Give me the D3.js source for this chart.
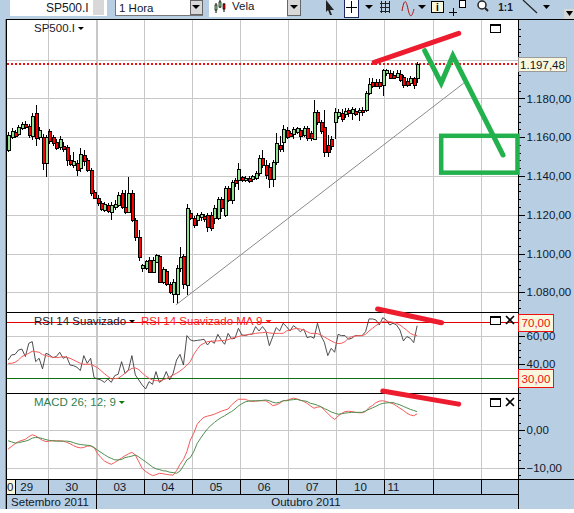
<!DOCTYPE html>
<html>
<head>
<meta charset="utf-8">
<style>
    html, body { margin: 0; padding: 0; background: #fff; }
    svg { display: block; font-family: "Liberation Sans", Arial, sans-serif; }
    .crisp { shape-rendering: crispEdges; }
    .axis text { font-size: 11.5px; fill: #10182a; }
    .axis path { display: none; }
    .axis line { stroke: #000; }
</style>
<script src="https://cdnjs.cloudflare.com/ajax/libs/d3/7.8.5/d3.min.js"></script>
</head>
<body>
<svg id="chart" width="574" height="513"></svg>
<script>
// hourly candles
var opens = [1153.3,1160,1162.6,1161.5,1164.6,1166.7,1165.7,1160.5,1172.3,1160,1160,1146.7,1163.1,1160,1157.4,1155,1155.4,1154.9,1148.2,1145.6,
    1146.7,1144,1150.8,1148.2,1143,1131.8,1128.7,1126.2,1122.6,1125.2,1121.5,1124.1,1125.2,1131.3,1124.1,1121.5,1131.3,1117.4,1108.7,1092.3,
    1092.3,1096.9,1090.8,1095.4,1098.5,1085.1,1090.8,1084.1,1079,1079,1092.3,1098.5,1084.1,1121,1118.5,1117.4,1119,1119.5,1120,1120,
    1118.5,1118.5,1128.2,1120,1133.8,1127.7,1138,1138,1139.5,1138,1139,1138.5,1139,1141.5,1149.2,1145.6,1144.6,1138.5,1147.2,1155.9,
    1157.4,1163.6,1162,1161.5,1162.6,1163.6,1161,1164.6,1162,1159,1172.8,1167.7,1165.1,1155.9,1159,1167.7,1170.8,1172.3,1171.8,1173.8,
    1172.3,1173.3,1172.8,1173.8,1173.8,1182.6,1188.7,1188.7,1188.7,1186.7,1192.8,1193.3,1192.3,1191.3,1192.8,1190.8,1189.2,1187.7,1190.3,1190.3];
var closes = [1161,1163.1,1160.5,1165.1,1166.7,1165.1,1161,1170.8,1159.5,1163.6,1146.7,1160,1158,1157,1154.4,1159,1153.8,1148.2,1146.2,1147.7,
    1143,1151.3,1147.7,1143,1131.3,1128.7,1126.2,1123,1125.7,1122,1125.2,1125.7,1130.3,1124.1,1121.5,1131.3,1117.4,1108.7,1098.5,1093.9,
    1095.9,1090.8,1096.9,1099,1085.1,1091.8,1084.1,1080,1085.1,1092.3,1098,1084.1,1123.6,1118.5,1114.9,1120,1120.5,1118,1113.9,1113.3,
    1123.6,1128.2,1123.6,1133.8,1127.7,1137,1136.4,1143.6,1138,1139,1137.4,1140,1141.5,1149.2,1145.6,1140.5,1138.5,1147.2,1157,1153.8,
    1164.1,1160,1160.5,1164.1,1164.6,1160.5,1164.6,1159.5,1159.5,1172.8,1167.7,1163.1,1152.3,1152.3,1155.4,1172.8,1172.8,1169.2,1173.3,1172.3,
    1174.4,1171.8,1173.8,1172.8,1182.6,1187.2,1186.7,1186.7,1186.7,1194.4,1194.4,1190.8,1190.8,1193.3,1189.8,1186.7,1187.2,1190.3,1186.7,1197.48];
var highs = [1162.6,1164.6,1163.6,1166.2,1167.7,1168.2,1166.7,1172.3,1176.4,1165.1,1161.5,1161,1164.1,1161,1159,1160.5,1157.4,1156,1150.8,1152.3,
    1148.2,1154.4,1153.3,1149.2,1144,1132.8,1130.3,1127.2,1126.7,1126.2,1126.7,1127.7,1131.8,1132.8,1132.8,1139.5,1132.8,1118.5,1112.3,1094.4,
    1096.4,1098,1098,1099.5,1099,1092.8,1091.8,1085.1,1086.7,1093.9,1103.6,1099.5,1125.7,1122.6,1119.5,1121,1121.5,1120.5,1121,1121.5,
    1125.2,1129.2,1129.2,1134.9,1134.9,1138,1139,1146.7,1140,1140,1140,1140.5,1142.6,1150.8,1153.3,1148.2,1146.7,1148.2,1162,1160.5,
    1166.2,1165.1,1163.1,1165.1,1165.1,1164.6,1165.7,1165.7,1163.1,1179,1173.8,1168.7,1173.8,1161,1160.5,1174.9,1174.4,1174.4,1174.9,1174.9,
    1175.4,1174.9,1174.9,1175.4,1183.6,1190.3,1190.3,1189.8,1189.8,1195.4,1195.4,1194.4,1193.9,1194.4,1194.4,1192.3,1190.3,1191.3,1190.8,1199];
var lows = [1152.3,1159,1159.5,1160.5,1163.6,1164.1,1159.5,1158.5,1155.4,1158.5,1143,1139.5,1156.4,1155.4,1153.3,1153.3,1152.3,1145.1,1145.1,1144.1,
    1140,1142,1145.1,1142,1129.8,1128.2,1124.6,1122,1121.5,1121,1117.4,1122.6,1124.1,1123,1120.5,1121,1116.4,1106.2,1095.9,1090.3,
    1091.3,1090.3,1090.3,1094.9,1084.6,1084.1,1083.1,1079,1074.4,1073.8,1090.3,1081.5,1078.5,1117.4,1113.3,1114.4,1117,1116.4,1111.3,1111.8,
    1115.4,1117.4,1121.5,1119,1126.7,1125.7,1134.4,1132.8,1137,1137,1136.4,1137,1138,1140,1144.1,1138.5,1133.8,1134.4,1145.6,1152.3,
    1152.3,1159,1160,1159,1161.5,1158.5,1160,1158,1158,1158.5,1166.2,1161.5,1149.8,1149.8,1153.3,1159,1169.2,1167.7,1169.8,1170.3,
    1168.7,1170.8,1168.2,1170.8,1172.8,1181.5,1185.1,1186.2,1184.6,1181,1191.3,1189.8,1189.8,1190.3,1188.2,1185.1,1185.7,1186.2,1184.6,1187.7];

var rsi = [43.1,46.7,47.1,50.2,50.9,45.5,55,56.2,41.9,44.3,36.7,47.9,46.7,44.8,45.5,48.6,44.3,45.5,39.5,39,
    37.9,35.5,46.2,40.7,44.3,30.5,29.5,28.8,27.1,29.5,27.1,31.9,32.9,41.9,33.6,36,46.2,32.4,28.8,25.2,
    22.4,27.6,25.7,34.8,27.1,28.8,34.8,28.8,33.6,43.1,47.1,39.5,60.5,57.4,56.7,57.1,57.4,57.9,53.8,56.7,
    55,61.4,57.4,54.3,62.1,58.1,58.6,65.7,61,60.5,61.4,61.4,66.9,63.8,66.9,63.8,53.3,59.8,66.2,63.8,
    69.3,66.9,63.8,67.6,65.7,63.3,65.2,59,59.8,58.6,69.3,60.5,55.7,46.2,51.4,48.6,61.4,60.5,60.5,57.9,
    58.6,60.5,60.5,60.5,63.3,72.4,72.4,71.7,68.1,73.3,71.7,68.1,69.3,68.1,64.5,56.7,59.8,58.6,55.5,67.6];
var rsiMa = [40.7,40.7,41.4,43.1,45.5,46.7,47.9,49.3,49,48.6,46.9,46.2,45.5,45,44.8,45,45.5,45,44.3,43.1,
    41.9,40.7,40,40,40,38.8,37.6,35.5,33.3,31.4,29.5,29.8,30,31.7,33.6,35.5,37.1,37.4,36.2,33.8,
    31.7,30,28.8,28.3,28.3,28.8,29.8,31,32.4,33.6,35.2,37.1,39.5,41.9,47.1,50.7,53.8,55,56.2,56.4,
    56.7,56.7,56.9,57.1,57.6,58.6,59.3,59.8,60.5,61,61.2,61.7,62.1,62.4,62.6,62.9,62.4,62.1,62.1,62.1,
    62.1,63.8,64.5,65.2,65.7,65.2,64.5,63.3,62.1,62.1,61.9,61,59.5,58.1,56.7,55.5,54.8,55,56.2,58.6,
    59.8,60.2,60.5,60.5,61.4,63.8,65.7,67.6,69.3,70.5,71,70.5,70,69.3,68.1,66.2,64.3,62.1,61,60.5];

var macd = [-5,-4.3,-3.6,-3,-2.7,-2.4,-1.7,-1.2,-1.5,-2.1,-2.7,-3,-2.9,-2.8,-2.8,-2.8,-2.9,-3.2,-3.6,-4.1,
    -4.5,-4.7,-4.6,-4.2,-4.2,-4.6,-6.2,-7.3,-8.2,-8.7,-9.1,-8.6,-8,-7.4,-6.8,-6.3,-5.9,-6.6,-8.4,-10.2,
    -11,-11.6,-12.1,-11.9,-11.5,-11.6,-11.8,-11.9,-12,-10.8,-9.1,-7.8,-5.7,-2.6,-0.8,1.6,2.7,3.5,3.8,4,
    4.3,4.7,5.1,5.4,5.7,6.8,7.6,8.3,8.3,8.3,7.9,7.7,7.8,7.9,7.9,7.9,7.3,6.6,6.8,7.2,
    7.9,8,8.3,8.6,8.4,8.1,7.7,7.2,6.5,5.9,6.2,6.3,5.4,4.5,3.6,2.9,3.8,4.5,5,5.1,
    5,4.8,4.7,4.7,5,6.1,6.6,7.4,7.8,7.9,7.7,7.4,7.1,6.5,5.9,5.3,4.6,4.1,3.9,4.4];
var macdSignal = [-2.8,-3.1,-3.4,-3.3,-3.1,-2.9,-2.6,-2.1,-1.9,-2,-2.2,-2.5,-2.7,-2.8,-2.9,-2.9,-2.9,-2.9,-3,-3.3,
    -3.6,-3.8,-3.9,-4,-4.1,-4.6,-5.3,-5.9,-6.5,-7.1,-7.5,-7.9,-7.9,-7.8,-7.3,-7.1,-6.9,-6.6,-7.1,-7.8,
    -8.4,-9.1,-9.8,-10.3,-10.5,-10.8,-10.9,-11.2,-11.3,-11.5,-10.9,-9.5,-7.9,-7.3,-5.7,-3.5,-2.1,-0.8,0.4,1.3,
    2.1,2.8,3.4,3.9,4.5,5,5.7,6.5,7.1,7.6,7.8,7.9,7.9,7.9,8,8.1,7.9,7.5,7.3,7.5,
    7.9,7.9,8.1,8.2,8.3,8,7.9,7.7,7.2,7,6.7,6.3,5.8,5.4,4.9,4.6,4.3,4.4,4.6,4.7,
    4.8,4.8,4.8,4.8,5.2,5.6,6,6.4,6.9,7.2,7.3,7.4,7.4,7.1,6.8,6.4,6,5.6,5.3,5];

// day labels and where each day starts, in candle number
var dayLabels = ['29', '30', '03', '04', '05', '06', '07', '10', '11', '', ''];
var dayStarts = [-2, 12, 26, 40, 54, 68, 82, 96, 110, 124, 138, 152];
var firstDateEdge = 2.4;
var months = [{ name: 'Setembro 2011', from: -2, to: 26 }, { name: 'Outubro 2011', from: 26, to: 152 }];

var priceTicks = [1180, 1160, 1140, 1120, 1100, 1080];
var priceGrid = [1200, 1180, 1160, 1140, 1120, 1100, 1080];
var rsiTicks = [60, 40];
var macdTicks = [0, -10];
var lastPrice = 1197.48;

// hand drawn notes on the chart, in candle number and value
var trendLine = [[48.8, 1073.5], [132.6, 1187.9]];
var greenPath = [[121.2, 1204.6], [126, 1187.9], [129.4, 1202], [144, 1150.8]];
var greenBox = { i0: 126, i1: 148.2, top: 1160.7, bottom: 1141.7 };
var redPrice = [[106.5, 1198.6], [131.1, 1213.5]];
var redRsi = [[107.5, 79.5], [126.1, 69.7]];
var redMacd = [[109, 10.5], [131.1, 7]];

var BLUE = '#b8cfe3', GRID = '#c8c8c8', UP = '#90e090', DOWN = '#ff0000';
var left = 7, right = 518, chartTop = 19, pricePanelEnd = 312, rsiEnd = 393, macdEnd = 479, dateEnd = 494, monthEnd = 509;

var x = d3.scaleLinear().domain([12, 138]).range([47.7, 480.7]);
var yPrice = d3.scaleLinear().domain([1080, 1200]).range([292.3, 59.6]);
var yRsi = d3.scaleLinear().domain([70, 30]).range([322.3, 378.3]);
var yMacd = d3.scaleLinear().domain([0, -10]).range([430.3, 467.7]);
var cx = function (i) { return x(i + 0.5); };

var svg = d3.select('#chart');

// window chrome
svg.append('rect').attr('width', 574).attr('height', 509).attr('fill', BLUE);
svg.append('rect').attr('x', 5).attr('y', 19).attr('width', 2).attr('height', 490).attr('fill', '#8c9096');
svg.append('rect').attr('x', left).attr('y', chartTop).attr('width', right - left).attr('height', macdEnd - chartTop).attr('fill', '#fff');

// grid
var grid = svg.append('g').attr('class', 'crisp').attr('stroke', GRID);
grid.selectAll('line.v').data(dayStarts.filter(function (d) { return x(d) > left && x(d) < right; })).enter().append('line')
    .attr('x1', function (d) { return Math.round(x(d)) + 0.5; })
    .attr('x2', function (d) { return Math.round(x(d)) + 0.5; })
    .attr('y1', chartTop).attr('y2', macdEnd)
    .attr('stroke-width', function (d) { return d === 26 ? 2 : 1; });
function hGrid(vals, scale) {
    grid.selectAll(null).data(vals).enter().append('line')
        .attr('x1', left).attr('x2', right)
        .attr('y1', function (d) { return Math.round(scale(d)) + 0.5; })
        .attr('y2', function (d) { return Math.round(scale(d)) + 0.5; });
}
hGrid(priceGrid, yPrice);
hGrid(rsiTicks, yRsi);
hGrid(macdTicks, yMacd);

// last price line
svg.append('line').attr('class', 'crisp')
    .attr('x1', left).attr('x2', right)
    .attr('y1', Math.round(yPrice(lastPrice))).attr('y2', Math.round(yPrice(lastPrice)))
    .attr('stroke', '#e81010').attr('stroke-width', 2).attr('stroke-dasharray', '2 2');

// candles
var candles = svg.append('g').attr('class', 'crisp');
var idx = d3.range(closes.length);
candles.selectAll('line').data(idx).enter().append('line')
    .attr('x1', function (i) { return Math.round(cx(i)) + 0.5; })
    .attr('x2', function (i) { return Math.round(cx(i)) + 0.5; })
    .attr('y1', function (i) { return yPrice(highs[i]); })
    .attr('y2', function (i) { return yPrice(lows[i]); })
    .attr('stroke', '#000');
candles.selectAll('rect').data(idx).enter().append('rect')
    .attr('x', function (i) { return Math.round(cx(i)) - 1 + 0.5; })
    .attr('width', 3)
    .attr('y', function (i) { return Math.round(yPrice(Math.max(opens[i], closes[i]))) + 0.5; })
    .attr('height', function (i) { return Math.max(1, Math.round(Math.abs(yPrice(opens[i]) - yPrice(closes[i])))); })
    .attr('fill', function (i) { return closes[i] >= opens[i] ? UP : DOWN; })
    .attr('stroke', '#000');

// trend line
var pricePath = d3.line().x(function (d) { return cx(d[0]); }).y(function (d) { return yPrice(d[1]); });
svg.append('path').attr('d', pricePath(trendLine)).attr('fill', 'none').attr('stroke', '#8a8a8a').attr('stroke-width', 1);

// RSI levels and lines
svg.append('line').attr('class', 'crisp').attr('x1', left).attr('x2', right).attr('y1', Math.round(yRsi(70)) + 0.5).attr('y2', Math.round(yRsi(70)) + 0.5).attr('stroke', '#e00000');
svg.append('line').attr('class', 'crisp').attr('x1', left).attr('x2', right).attr('y1', Math.round(yRsi(30)) + 0.5).attr('y2', Math.round(yRsi(30)) + 0.5).attr('stroke', '#107010');
var rsiLine = d3.line().x(function (d, i) { return cx(i); }).y(function (d) { return yRsi(d); });
svg.append('path').attr('d', rsiLine(rsi)).attr('fill', 'none').attr('stroke', '#3a3a3a').attr('stroke-width', 0.9);
svg.append('path').attr('d', rsiLine(rsiMa)).attr('fill', 'none').attr('stroke', '#f55a5a').attr('stroke-width', 1);

// MACD lines
var macdLine = d3.line().x(function (d, i) { return cx(i); }).y(function (d) { return yMacd(d); });
svg.append('path').attr('d', macdLine(macd)).attr('fill', 'none').attr('stroke', '#f55a5a').attr('stroke-width', 1);
svg.append('path').attr('d', macdLine(macdSignal)).attr('fill', 'none').attr('stroke', '#4f8f4f').attr('stroke-width', 1);

// panel borders
var frame = svg.append('g').attr('class', 'crisp').attr('stroke', '#000');
[chartTop, pricePanelEnd, rsiEnd, macdEnd, dateEnd].forEach(function (y, n) {
    frame.append('line').attr('x1', left).attr('x2', n === 0 ? 574 : right).attr('y1', y + 0.5).attr('y2', y + 0.5);
});
frame.append('line').attr('x1', 519).attr('x2', 574).attr('y1', macdEnd + 0.5).attr('y2', macdEnd + 0.5);
frame.append('line').attr('x1', right + 0.5).attr('x2', right + 0.5).attr('y1', chartTop).attr('y2', monthEnd);
frame.append('line').attr('x1', left - 0.5).attr('x2', left - 0.5).attr('y1', chartTop).attr('y2', monthEnd);

// right axes
function rightAxis(scale, labelVals, minorVals, fmt) {
    var g = svg.append('g').attr('class', 'axis crisp').attr('transform', 'translate(' + (right + 0.5) + ',0)');
    g.call(d3.axisRight(scale).tickValues(minorVals).tickSize(2).tickFormat(''));
    var g2 = svg.append('g').attr('class', 'axis crisp').attr('transform', 'translate(' + (right + 0.5) + ',0)');
    g2.call(d3.axisRight(scale).tickValues(labelVals).tickSize(6).tickPadding(2).tickFormat(fmt));
}
var fmtPrice = function (d) { return d3.format(',.2f')(d).replace(/,/g, '#').replace('.', ',').replace(/#/g, '.'); };
rightAxis(yPrice, priceTicks, d3.range(1072, 1220, 4), fmtPrice);
rightAxis(yRsi, rsiTicks, d3.range(25, 80, 5), fmtPrice);
rightAxis(yMacd, macdTicks, d3.range(-12, 14, 2), fmtPrice);

// value flags on the axis
function flag(val, scale, txt, w, h, border, color) {
    var yy = Math.round(scale(val));
    svg.append('rect').attr('class', 'crisp').attr('x', right + 0.5).attr('y', yy - h / 2 + 0.5).attr('width', w).attr('height', h)
        .attr('fill', '#f8f6dc').attr('stroke', border);
    svg.append('text').attr('x', right + 0.5 + w / 2).attr('y', yy + 4.5).attr('text-anchor', 'middle')
        .attr('font-size', 11.5).attr('fill', color).text(txt);
}
flag(lastPrice, yPrice, fmtPrice(lastPrice), 48, 14, '#9a9a9a', '#10182a');
flag(70, yRsi, fmtPrice(70), 35, 17, '#ee1111', '#ee1111');
flag(30, yRsi, fmtPrice(30), 35, 18, '#ee1111', '#ee1111');

// date strips
svg.append('rect').attr('x', left).attr('y', macdEnd + 1).attr('width', 8).attr('height', 14).attr('fill', '#f8f6dc');
svg.append('text').attr('x', 7).attr('y', 491).attr('font-size', 11.5).attr('fill', '#10182a').text('0');
var dates = svg.append('g');
dates.selectAll('line').data([firstDateEdge].concat(dayStarts.filter(function (d) { return x(d) > left && x(d) < right; }))).enter().append('line')
    .attr('class', 'crisp').attr('stroke', '#000')
    .attr('x1', function (d) { return Math.round(x(d)) + 0.5; })
    .attr('x2', function (d) { return Math.round(x(d)) + 0.5; })
    .attr('y1', macdEnd).attr('y2', dateEnd);
dates.selectAll('text').data(dayLabels).enter().append('text')
    .attr('x', function (d, i) {
        // the last day is short, its label sits over the candles it has
        return d === '11' ? x(110) + 9 : (x(Math.max(dayStarts[i], -2)) + x(dayStarts[i + 1])) / 2 + (i === 0 ? 3 : 0);
    })
    .attr('y', 491).attr('text-anchor', 'middle').attr('font-size', 11.5).attr('fill', '#10182a')
    .text(function (d) { return d; });
svg.append('line').attr('class', 'crisp').attr('stroke', '#000').attr('x1', Math.round(x(26)) + 0.5).attr('x2', Math.round(x(26)) + 0.5).attr('y1', dateEnd).attr('y2', monthEnd);
svg.append('text').attr('x', 50).attr('y', 506).attr('text-anchor', 'middle').attr('font-size', 11.5).attr('fill', '#10182a').text(months[0].name);
svg.append('text').attr('x', 306).attr('y', 506).attr('text-anchor', 'middle').attr('font-size', 11.5).attr('fill', '#10182a').text(months[1].name);

// panel titles
function title(px, py, txt, color, triColor) {
    var t = svg.append('text').attr('x', px).attr('y', py).attr('font-size', 11.5).attr('fill', color).text(txt);
    var w = t.node().getComputedTextLength();
    svg.append('path').attr('d', 'M' + (px + w + 3) + ',' + (py - 5) + 'h6l-3,3z').attr('fill', triColor);
}
title(34, 32, 'SP500.I', '#1a2030', '#000');
title(34, 325, 'RSI 14 Suavizado', '#1a2030', '#000');
title(141, 325, 'RSI 14 Suavizado MA 9', '#ff2020', '#ff2020');
title(34, 406, 'MACD 26; 12; 9', '#2f7f4f', '#0a7a0a');

// maximise and close buttons
function panelButtons(py, withClose) {
    svg.append('rect').attr('class', 'crisp').attr('x', 490.5).attr('y', py + 0.5).attr('width', 10).attr('height', 8).attr('fill', '#fff').attr('stroke', '#000');
    svg.append('rect').attr('class', 'crisp').attr('x', 490.5).attr('y', py + 0.5).attr('width', 10).attr('height', 1.5).attr('fill', '#000');
    if (withClose) {
        svg.append('path').attr('d', 'M506,' + py + 'l8,8M514,' + py + 'l-8,8').attr('stroke', '#000').attr('stroke-width', 1.6);
    }
}
panelButtons(24, false);
panelButtons(316, true);
panelButtons(398, true);

// toolbar, cut at the top of the window
var tb = svg.append('g');
tb.append('rect').attr('x', 10).attr('y', 0).attr('width', 97).attr('height', 16).attr('fill', '#fff');
tb.append('text').attr('x', 46).attr('y', 12).attr('font-size', 12).attr('fill', '#10182a').text('SP500.I');
tb.append('rect').attr('x', 93).attr('y', 0).attr('width', 11).attr('height', 15).attr('fill', '#d8d8d8');
tb.append('rect').attr('class', 'crisp').attr('x', 115.5).attr('y', -1).attr('width', 87).attr('height', 16).attr('fill', '#fff').attr('stroke', '#777');
tb.append('text').attr('x', 119).attr('y', 12).attr('font-size', 11.5).attr('fill', '#10182a').text('1 Hora');
tb.append('rect').attr('class', 'crisp').attr('x', 190.5).attr('y', 0).attr('width', 12).attr('height', 14).attr('fill', '#d8d8d8').attr('stroke', '#666');
tb.append('path').attr('d', 'M192,5h8l-4,4z').attr('fill', '#000');
tb.append('rect').attr('x', 209).attr('y', 0).attr('width', 78).attr('height', 17).attr('fill', '#fff');
tb.append('path').attr('d', 'M216,3v10M220,0v8M224,3v9').attr('stroke', '#000');
tb.append('rect').attr('x', 215).attr('y', 5).attr('width', 2).attr('height', 5).attr('fill', UP).attr('stroke', '#000').attr('stroke-width', 0.7);
tb.append('rect').attr('x', 219).attr('y', 2).attr('width', 2).attr('height', 5).attr('fill', UP).attr('stroke', '#000').attr('stroke-width', 0.7);
tb.append('rect').attr('x', 223).attr('y', 4).attr('width', 2).attr('height', 5).attr('fill', DOWN).attr('stroke', '#000').attr('stroke-width', 0.7);
tb.append('text').attr('x', 232).attr('y', 10).attr('font-size', 11.5).attr('fill', '#10182a').text('Vela');
tb.append('rect').attr('class', 'crisp').attr('x', 287).attr('y', -1).attr('width', 13).attr('height', 16).attr('fill', '#d8d8d8').attr('stroke', '#666');
tb.append('path').attr('d', 'M290,5h8l-4,4z').attr('fill', '#000');
tb.append('path').attr('d', 'M326,0l8,10l-4,0l2,5l-2,0l-2,-5l-2,2z').attr('fill', '#222');
tb.append('rect').attr('class', 'crisp').attr('x', 344.5).attr('y', -1).attr('width', 14).attr('height', 18).attr('fill', '#fff').attr('stroke', '#1a2a60');
tb.append('path').attr('class', 'crisp').attr('d', 'M351.5,1v12M346,7h11').attr('stroke', '#000');
tb.append('path').attr('d', 'M365,5h8l-4,4z').attr('fill', '#000');
tb.append('path').attr('class', 'crisp').attr('d', 'M380,3.5h10M380,7.5h10M380,11.5h10M381.5,1v12M385.5,1v12M389.5,1v12').attr('stroke', '#222');
tb.append('path').attr('d', 'M402,11c2,-12 4,-12 6,-2s4,8 6,0').attr('fill', 'none').attr('stroke', '#b01010');
tb.append('path').attr('d', 'M418,5h8l-4,4z').attr('fill', '#000');
tb.append('rect').attr('class', 'crisp').attr('x', 431.5).attr('y', 1.5).attr('width', 12).attr('height', 11).attr('fill', '#f8f6dc').attr('stroke', '#000');
tb.append('text').attr('x', 437.5).attr('y', 11).attr('text-anchor', 'middle').attr('font-size', 10).attr('font-weight', 'bold').text('i');
tb.append('path').attr('class', 'crisp').attr('d', 'M453,8v8M449,12h8').attr('stroke', '#000');
tb.append('rect').attr('class', 'crisp').attr('x', 459.5).attr('y', 0.5).attr('width', 6).attr('height', 7).attr('fill', '#fff').attr('stroke', '#000');
tb.append('circle').attr('cx', 482).attr('cy', 5).attr('r', 4).attr('fill', '#fff').attr('stroke', '#222').attr('stroke-width', 1.5);
tb.append('path').attr('d', 'M485,8l3,3').attr('stroke', '#222').attr('stroke-width', 2);
tb.append('text').attr('x', 505.5).attr('y', 11).attr('text-anchor', 'middle').attr('font-size', 10).attr('font-weight', 'bold').attr('fill', '#10182a').text('1:1');
tb.append('path').attr('d', 'M523,0l14,13').attr('stroke', '#222').attr('stroke-width', 1.2);
tb.append('path').attr('d', 'M543,5h7l-3.5,4z').attr('fill', '#000');
tb.append('rect').attr('x', 564).attr('y', 9).attr('width', 10).attr('height', 10).attr('fill', '#d8d8d8');
tb.append('path').attr('d', 'M566,11h7l-3.5,5z').attr('fill', '#000');

// hand drawn notes go on top of everything
var notes = svg.append('g').attr('fill', 'none').attr('stroke-linecap', 'round').attr('stroke-linejoin', 'miter');
var RED = '#ed1c2e', GREEN = '#22b14c';
notes.append('path').attr('d', pricePath(redPrice)).attr('stroke', RED).attr('stroke-width', 5);
notes.append('path').attr('d', d3.line().x(function (d) { return cx(d[0]); }).y(function (d) { return yRsi(d[1]); })(redRsi)).attr('stroke', RED).attr('stroke-width', 5);
notes.append('path').attr('d', d3.line().x(function (d) { return cx(d[0]); }).y(function (d) { return yMacd(d[1]); })(redMacd)).attr('stroke', RED).attr('stroke-width', 5);
notes.append('path').attr('d', pricePath(greenPath)).attr('stroke', GREEN).attr('stroke-width', 5);
notes.append('rect')
    .attr('x', cx(greenBox.i0)).attr('y', yPrice(greenBox.top))
    .attr('width', cx(greenBox.i1) - cx(greenBox.i0)).attr('height', yPrice(greenBox.bottom) - yPrice(greenBox.top))
    .attr('stroke', GREEN).attr('stroke-width', 4.5);
</script>
</body>
</html>
